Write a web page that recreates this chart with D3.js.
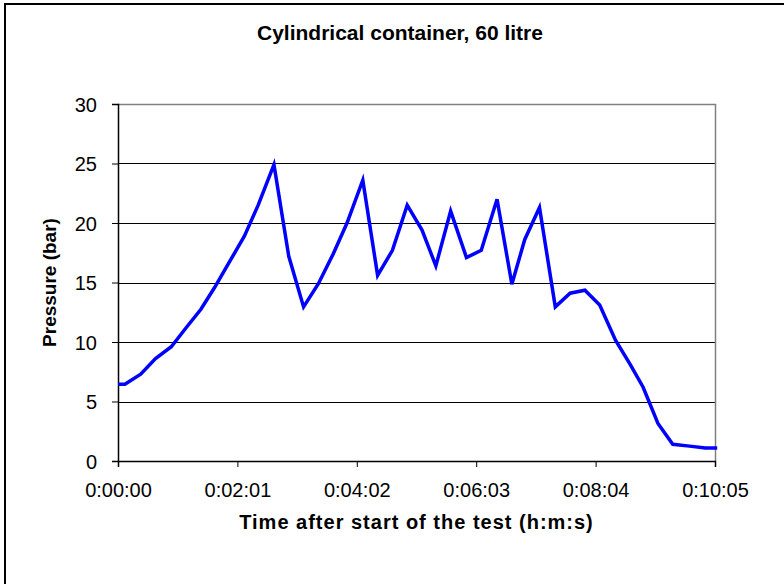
<!DOCTYPE html>
<html>
<head>
<meta charset="utf-8">
<script src="https://cdn.jsdelivr.net/npm/d3@7"></script>
<style>
  body { margin: 0; background: #fff; }
  svg { display: block; font-family: "Liberation Sans", Arial, sans-serif; }
  .tick-label { font-size: 20px; fill: #000; }
  .axis-title { font-size: 19px; font-weight: bold; fill: #000; }
</style>
</head>
<body>
<div id="chart"></div>
<script>
// time after start (seconds) and measured pressure (bar)
const timeSec = [0, 7, 23, 38, 54, 69, 84, 98, 112, 128, 142, 158, 173, 188, 203,
  218, 232, 248, 263, 278, 293, 308, 322, 337, 353, 368, 384, 399, 412, 427,
  443, 458, 473, 488, 504, 519, 532, 547, 562, 579, 595, 607];
const pressure = [6.45, 6.45, 7.3, 8.6, 9.6, 11.2, 12.75, 14.6, 16.6, 18.9, 21.5,
  24.9, 17.2, 12.95, 14.9, 17.4, 20.0, 23.6, 15.6, 17.7, 21.5, 19.4, 16.4, 21.0,
  17.1, 17.7, 22.0, 14.85, 18.6, 21.3, 12.95, 14.1, 14.35, 13.1, 10.15, 8.1, 6.2,
  3.15, 1.4, 1.25, 1.1, 1.1];

// excel axis: max 0.007 day, major unit 0.0014 day
const xTicks = [0, 120.96, 241.92, 362.88, 483.84, 604.8];
const xTickLabels = ["0:00:00", "0:02:01", "0:04:02", "0:06:03", "0:08:04", "0:10:05"];
const yTicks = [0, 5, 10, 15, 20, 25, 30];

const chartTitle = "Cylindrical container, 60 litre";
const xTitle = "Time after start of the test (h:m:s)";
const yTitle = "Pressure (bar)";

const W = 784, H = 584;
const m = { top: 104, right: 69, bottom: 123, left: 118 };
const width = W - m.left - m.right;
const height = H - m.top - m.bottom;

const svg = d3.select("#chart").append("svg")
  .attr("width", W)
  .attr("height", H);

// chart area border (right/bottom fall outside the picture)
svg.append("rect")
  .attr("x", 5).attr("y", 4)
  .attr("width", 900).attr("height", 900)
  .attr("fill", "none")
  .attr("stroke", "#000")
  .attr("stroke-width", 2);

svg.append("text")
  .attr("class", "axis-title")
  .attr("x", 400)
  .attr("y", 40)
  .attr("text-anchor", "middle")
  .style("font-size", "21px")
  .text(chartTitle);

const g = svg.append("g").attr("transform", `translate(${m.left},${m.top})`);

const x = d3.scaleLinear().domain([0, 604.8]).range([0, width]);
const y = d3.scaleLinear().domain([0, 30]).range([height, 0]);

// gridlines
g.append("g")
  .selectAll("line")
  .data(yTicks.filter((d) => d > 0 && d < 30))
  .join("line")
  .attr("x1", 0)
  .attr("x2", width)
  .attr("y1", (d) => Math.round(y(d)) + 0.5)
  .attr("y2", (d) => Math.round(y(d)) + 0.5)
  .attr("stroke", "#000")
  .attr("stroke-width", 1);

// plot area border, top and right
g.append("path")
  .attr("d", `M0,0.5H${width + 0.5}V${height}`)
  .attr("fill", "none")
  .attr("stroke", "#808080")
  .attr("stroke-width", 1.5);

// y axis
const yAxis = g.append("g")
  .call(d3.axisLeft(y).tickValues(yTicks).tickSize(6).tickFormat(d3.format("d")));
yAxis.select(".domain").attr("stroke", "#000").attr("stroke-width", 1.5);
yAxis.selectAll(".tick line").attr("stroke", "#000");
yAxis.selectAll(".tick text")
  .attr("class", "tick-label")
  .attr("x", -21)
  .attr("dy", "0.35em");
yAxis.attr("font-family", null).attr("font-size", null);

// x axis
const xAxis = g.append("g")
  .attr("transform", `translate(0,${height})`)
  .call(d3.axisBottom(x).tickValues(xTicks).tickSize(6)
    .tickFormat((d, i) => xTickLabels[i]));
xAxis.select(".domain").attr("stroke", "#000").attr("stroke-width", 1.5);
xAxis.selectAll(".tick line").attr("stroke", "#000");
xAxis.selectAll(".tick text")
  .attr("class", "tick-label")
  .attr("y", 36)
  .attr("dy", 0);
xAxis.attr("font-family", null).attr("font-size", null);

// axis titles
g.append("text")
  .attr("class", "axis-title")
  .attr("x", width / 2)
  .attr("y", height + 68)
  .attr("text-anchor", "middle")
  .style("font-size", "20px")
  .style("letter-spacing", "1px")
  .text(xTitle);

g.append("text")
  .attr("class", "axis-title")
  .attr("transform", "rotate(-90)")
  .attr("x", -height / 2)
  .attr("y", -62)
  .attr("text-anchor", "middle")
  .text(yTitle);

// pressure line
const series = timeSec.map((t, i) => ({ t, p: pressure[i] }));
g.append("path")
  .datum(series)
  .attr("fill", "none")
  .attr("stroke", "#0000ff")
  .attr("stroke-width", 3.5)
  .attr("stroke-linejoin", "miter")
  .attr("d", d3.line().x((d) => x(d.t)).y((d) => y(d.p)));
</script>
</body>
</html>
